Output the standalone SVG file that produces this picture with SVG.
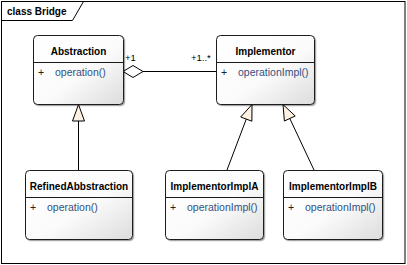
<svg xmlns="http://www.w3.org/2000/svg" width="407" height="265" viewBox="0 0 407 265">
<defs>
<linearGradient id="boxg" x1="0" y1="0" x2="1" y2="1">
<stop offset="0" stop-color="#ffffff"/>
<stop offset="0.55" stop-color="#fbfbfb"/>
<stop offset="1" stop-color="#dcdcdc"/>
</linearGradient>
<filter id="sh" x="-10%" y="-10%" width="130%" height="130%">
<feDropShadow dx="1.2" dy="1.2" stdDeviation="0.6" flood-color="#000" flood-opacity="0.35"/>
</filter>
</defs>
<style>
.box{fill:url(#boxg);stroke:#1a1a1a;stroke-width:1;filter:url(#sh)}
.sep{stroke:#1a1a1a;stroke-width:1}
.name{font-family:"Liberation Sans",Arial,sans-serif;font-size:10px;font-weight:bold;fill:#000;text-anchor:middle}
.plus{font-family:"Liberation Sans",Arial,sans-serif;font-size:10.5px;fill:#222}
.op{font-family:"Liberation Sans",Arial,sans-serif;font-size:10.5px;fill:#33507f}
.lbl{font-family:"Liberation Sans",Arial,sans-serif;font-size:9.5px;fill:#000}
.ln{stroke:#000;stroke-width:1;fill:none}
.tri{fill:#fdf1e2;stroke:#000;stroke-width:1}
.frame{fill:#fff;stroke:#000;stroke-width:1}
</style>
<rect x="0" y="0" width="407" height="265" fill="#fff"/>
<g id="frame">
<rect class="frame" x="1.5" y="1.5" width="403.5" height="262"/>
<path class="ln" d="M1.5,20.5 H72.5 L83.5,1.5"/>
<text x="7" y="15" style="font-family:'Liberation Sans',Arial,sans-serif;font-size:10px;font-weight:bold">class Bridge</text>
</g>
<g id="connectors">
<line class="ln" x1="143" y1="71.5" x2="216" y2="71.5"/>
<polygon class="tri" points="123,71.5 133,65.5 143,71.5 133,77.5" style="fill:#fff"/>
<text class="lbl" x="125" y="61">+1</text>
<text class="lbl" x="191" y="61">+1..*</text>
<line class="ln" x1="78.5" y1="170" x2="78.5" y2="121"/>
<polygon class="tri" points="78.5,104.5 72.5,121 84.5,121"/>
<line class="ln" x1="227" y1="170" x2="246.3" y2="119"/>
<polygon class="tri" points="252,104.5 240.7,117 251.9,121.2"/>
<line class="ln" x1="314" y1="170" x2="289.8" y2="118.5"/>
<polygon class="tri" points="283,104.5 295.2,116 284.4,121"/>
</g>
<g id="Abstraction">
<rect class="box" x="33.5" y="35.5" width="90" height="69" rx="4"/>
<line class="sep" x1="33.5" y1="62.5" x2="123.5" y2="62.5"/>
<text class="name" x="78.5" y="55">Abstraction</text>
<text class="plus" x="38" y="76">+</text>
<text class="op" x="55" y="76">operation()</text>
</g>
<g id="Implementor">
<rect class="box" x="216.5" y="35.5" width="98" height="69" rx="4"/>
<line class="sep" x1="216.5" y1="62.5" x2="314.5" y2="62.5"/>
<text class="name" x="265.5" y="55">Implementor</text>
<text class="plus" x="221" y="76">+</text>
<text class="op" x="238" y="76">operationImpl()</text>
</g>
<g id="RefinedAbbstraction">
<rect class="box" x="25.5" y="170.5" width="107" height="69" rx="4"/>
<line class="sep" x1="25.5" y1="197.5" x2="132.5" y2="197.5"/>
<text class="name" x="79" y="190">RefinedAbbstraction</text>
<text class="plus" x="30" y="211">+</text>
<text class="op" x="47" y="211">operation()</text>
</g>
<g id="ImplementorImplA">
<rect class="box" x="165.5" y="170.5" width="98" height="69" rx="4"/>
<line class="sep" x1="165.5" y1="197.5" x2="263.5" y2="197.5"/>
<text class="name" x="214.5" y="190">ImplementorImplA</text>
<text class="plus" x="170" y="211">+</text>
<text class="op" x="187" y="211">operationImpl()</text>
</g>
<g id="ImplementorImplB">
<rect class="box" x="283.5" y="170.5" width="99" height="69" rx="4"/>
<line class="sep" x1="283.5" y1="197.5" x2="382.5" y2="197.5"/>
<text class="name" x="333" y="190">ImplementorImplB</text>
<text class="plus" x="288" y="211">+</text>
<text class="op" x="305" y="211">operationImpl()</text>
</g>
</svg>
